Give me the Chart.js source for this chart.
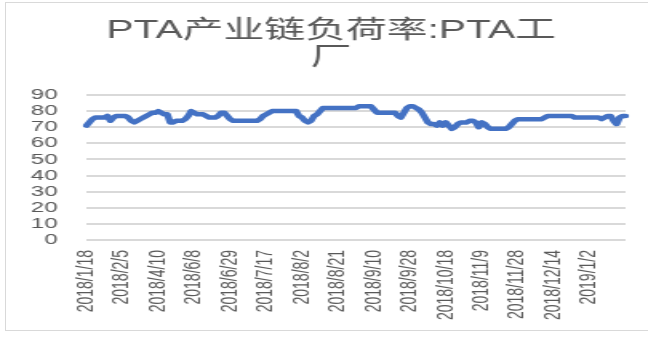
<!DOCTYPE html>
<html lang="zh">
<head>
    <meta charset="UTF-8">
    <title>PTA产业链负荷率:PTA工厂</title>
    <script src="https://cdn.jsdelivr.net/npm/chart.js"></script>
    <style>
        body { margin: 0; background: #ffffff; overflow: hidden; }
        .frame {
            position: absolute;
            left: 5px; top: 2px;
            width: 700px; height: 327px;
            border: 1px solid #d9d9d9;
        }
        #c { position: absolute; left: 0; top: 0; }
    </style>
</head>
<body>
    <div class="frame"></div>
    <!-- drawn 405 wide and stretched to 648, like the reference picture -->
    <canvas id="c" width="405" height="341" style="width:648px;height:341px"></canvas>

    <script>
        const titleLines = ['PTA产业链负荷率:PTA工', '厂'];

        // one tick label every 12 points
        const tickLabels = ["2018/1/18", "2018/2/5", "2018/4/10", "2018/6/8", "2018/6/29",
            "2018/7/17", "2018/8/2", "2018/8/21", "2018/9/10", "2018/9/28",
            "2018/10/18", "2018/11/9", "2018/11/28", "2018/12/14", "2019/1/2"];
        const labelStep = 12;

        const loadRate = [
            71, 73, 75, 76, 76, 76, 76, 77, 74, 76,
            77, 77, 77, 77, 76, 74, 73, 74, 75, 76,
            77, 78, 79, 79, 80, 79, 78, 78, 73, 73,
            74, 74, 74, 75, 77, 80, 79, 78, 78, 78,
            77, 76, 76, 76, 77, 79, 79, 77, 75, 74,
            74, 74, 74, 74, 74, 74, 74, 74, 75, 77,
            78, 79, 80, 80, 80, 80, 80, 80, 80, 80,
            80, 77, 76, 74, 73, 74, 77, 78, 80, 82,
            82, 82, 82, 82, 82, 82, 82, 82, 82, 82,
            82, 83, 83, 83, 83, 83, 81, 79, 79, 79,
            79, 79, 79, 79, 77, 76, 79, 82, 83, 83,
            82, 81, 79, 76, 73, 72, 72, 71, 73, 71,
            73, 71, 69, 70, 72, 73, 73, 73, 74, 74,
            73, 70, 73, 72, 70, 69, 69, 69, 69, 69,
            69, 70, 72, 74, 75, 75, 75, 75, 75, 75,
            75, 75, 75, 76, 77, 77, 77, 77, 77, 77,
            77, 77, 77, 76, 76, 76, 76, 76, 76, 76,
            76, 76, 75, 76, 77, 77, 74, 72, 76, 77,
            77
        ];

        const yTicks = { min: 0, max: 90, step: 10 };

        const grey = '#595959';

        // title drawn by hand so it can sit a bit right of the canvas centre
        const titlePlugin = {
            id: 'titleText',
            afterDraw(chart) {
                const ctx = chart.ctx;
                ctx.save();
                ctx.font = "25.5px 'Liberation Sans', 'Noto Sans CJK SC'";
                ctx.fillStyle = grey;
                ctx.textAlign = 'center';
                ctx.textBaseline = 'middle';
                titleLines.forEach((t, i) => ctx.fillText(t, 207, 31 + i * 27));
                ctx.restore();
            }
        };

        new Chart(document.getElementById('c'), {
            type: 'line',
            data: {
                labels: loadRate.map((v, i) => i),
                datasets: [{
                    data: loadRate,
                    borderColor: '#4472C4',
                    borderWidth: 4.5,
                    pointRadius: 0,
                    tension: 0,
                    borderJoinStyle: 'round',
                    borderCapStyle: 'round'
                }]
            },
            options: {
                responsive: false,
                devicePixelRatio: 1,
                animation: false,
                layout: { padding: { left: 0, right: 14, top: 95, bottom: 0 } },
                plugins: {
                    legend: { display: false },
                    tooltip: { enabled: false },
                    title: { display: false }
                },
                scales: {
                    x: {
                        grid: { display: false, drawTicks: false },
                        border: { display: false },
                        ticks: {
                            autoSkip: false,
                            minRotation: 90,
                            maxRotation: 90,
                            padding: 10,
                            color: grey,
                            font: { family: "'Liberation Sans'", size: 14 },
                            callback: (v, i) => (i % labelStep === 0 ? tickLabels[i / labelStep] : '')
                        },
                        afterFit: s => { s.height = 101; s.paddingLeft = 0; s.paddingRight = 0; }
                    },
                    y: {
                        min: yTicks.min,
                        max: yTicks.max,
                        grid: { display: true, drawOnChartArea: true, color: '#d9d9d9', lineWidth: 2, drawTicks: false },
                        border: { display: false },
                        ticks: {
                            autoSkip: false,
                            stepSize: yTicks.step,
                            padding: 18,
                            color: grey,
                            font: { family: "'Liberation Sans'", size: 15 }
                        },
                        afterFit: s => { s.width = 54; s.paddingTop = 0; s.paddingBottom = 0; }
                    }
                }
            },
            plugins: [titlePlugin]
        });
    </script>
</body>
</html>
